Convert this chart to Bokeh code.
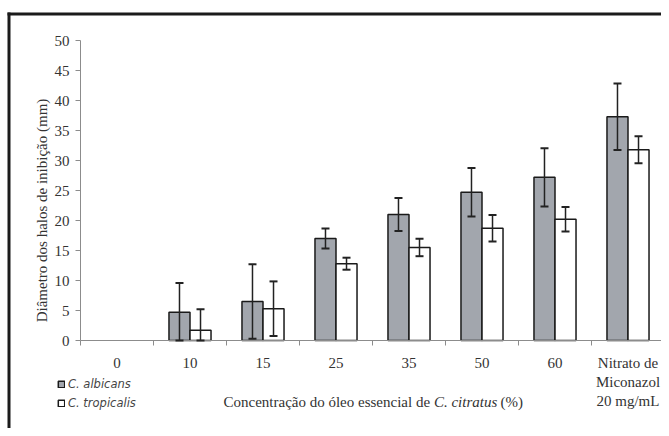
from math import pi
from bokeh.plotting import figure
from bokeh.models import (ColumnDataSource, Range1d, LinearAxis, FixedTicker, Whisker, TeeHead,
                          Label, Legend, LegendItem, BoxAnnotation)
from bokeh.transform import dodge
from bokeh.embed import file_html
from bokeh.resources import INLINE

# ---- data ----
categories = ["0", "10", "15", "25", "35", "50", "60", "Nitrato de\nMiconazol\n20 mg/mL"]
albicans = [0, 4.7, 6.5, 17.0, 21.0, 24.7, 27.2, 37.3]
albicans_err = [0, 4.9, 6.2, 1.65, 2.75, 4.05, 4.85, 5.55]
tropicalis = [0, 1.7, 5.3, 12.8, 15.5, 18.7, 20.2, 31.8]
tropicalis_err = [0, 3.5, 4.55, 1.0, 1.45, 2.2, 2.05, 2.25]
y_ticks = [0, 5, 10, 15, 20, 25, 30, 35, 40, 45, 50]
series_names = ["C. albicans", "C. tropicalis"]
y_title = "Diâmetro dos halos de inibição (mm)"
x_title_parts = ["Concentração do óleo essencial de ", "C. citratus", " (%)"]

# ---- layout constants (pixels) ----
W, H = 661, 428          # canvas size
X0_PX, Y0_PX = 80, 340   # where (0, 0) of the data lies inside the canvas
PX_PER_CAT = 73
PX_PER_UNIT = 6

SERIF = "Liberation Serif"
TXT = "#333333"
AX = "#8c8c8c"
BAR_W = 0.288
OFF = 0.144

n = len(categories)
centers = [i + 0.5 for i in range(n)]          # category slots on a linear scale
bounds = list(range(n))                         # category boundaries (tick marks)

def bar_source(vals, errs):
    xs, v_, up, lo = [], [], [], []
    for x, v, e in zip(centers, vals, errs):
        if v > 0:
            xs.append(x)
            v_.append(v)
            up.append(v + e)
            lo.append(max(0, v - e))
    return ColumnDataSource(dict(x=xs, v=v_, upper=up, lower=lo))

x_range = Range1d(-X0_PX / PX_PER_CAT, (W - X0_PX) / PX_PER_CAT)
y_range = Range1d(-(H - Y0_PX) / PX_PER_UNIT, Y0_PX / PX_PER_UNIT)

def px_x(px):   # canvas pixel -> data x (for text/decoration placement)
    return (px - X0_PX) / PX_PER_CAT

def px_y(py):
    return (Y0_PX - py) / PX_PER_UNIT

p = figure(x_range=x_range, y_range=y_range, width=W, height=H,
           output_backend="svg", toolbar_location=None,
           x_axis_location=None, y_axis_location=None,
           min_border=0, background_fill_color="white", border_fill_color="white")
p.outline_line_color = None
p.xgrid.visible = False
p.ygrid.visible = False

# black frame of the original figure (top and left edges)
p.add_layout(BoxAnnotation(left=px_x(7), right=None, top=px_y(12), bottom=px_y(15),
                           fill_color="#1b1b1b", fill_alpha=1, line_color=None))
p.add_layout(BoxAnnotation(left=px_x(7), right=px_x(10), top=px_y(12), bottom=None,
                           fill_color="#1b1b1b", fill_alpha=1, line_color=None))

# y axis
ya = LinearAxis(fixed_location=0, bounds=(0, 50), ticker=FixedTicker(ticks=y_ticks),
                axis_line_color=AX, major_tick_line_color=AX, minor_tick_line_color=None,
                major_tick_in=0, major_tick_out=5, major_label_standoff=6,
                major_label_text_font=SERIF, major_label_text_font_size="15px",
                major_label_text_color=TXT)
p.add_layout(ya, "left")

# x axis: line + ticks at category boundaries
tick_axis = LinearAxis(fixed_location=0, bounds=(0, x_range.end), ticker=FixedTicker(ticks=bounds),
                       axis_line_color=AX, major_tick_line_color=AX, minor_tick_line_color=None,
                       major_tick_in=0, major_tick_out=5,
                       major_label_overrides={b: "" for b in bounds},
                       major_label_text_font_size="1px")
p.add_layout(tick_axis, "below")
# x axis: category labels at slot centres
cat_axis = LinearAxis(fixed_location=0, ticker=FixedTicker(ticks=centers),
                      major_label_overrides={c: lab for c, lab in zip(centers, categories)},
                      axis_line_color=None, major_tick_line_color=None, minor_tick_line_color=None,
                      major_tick_in=0, major_tick_out=0, major_label_standoff=14,
                      major_label_text_font=SERIF, major_label_text_font_size="15px",
                      major_label_text_color=TXT)
p.add_layout(cat_axis, "below")

src_a = bar_source(albicans, albicans_err)
src_t = bar_source(tropicalis, tropicalis_err)
r1 = p.vbar(x=dodge("x", -OFF), top="v", width=BAR_W, source=src_a,
            fill_color="#a2a6ad", line_color="#1a1a1a", line_width=1.5)
r2 = p.vbar(x=dodge("x", OFF), top="v", width=BAR_W, source=src_t,
            fill_color="white", line_color="#1a1a1a", line_width=1.5)

for s, off in [(src_a, -OFF), (src_t, OFF)]:
    p.add_layout(Whisker(source=s, base=dodge("x", off), upper="upper", lower="lower",
                         level="annotation", line_color="#222222", line_width=1.5,
                         upper_head=TeeHead(size=8, line_width=2, line_color="#222222"),
                         lower_head=TeeHead(size=8, line_width=2, line_color="#222222")))

legend = Legend(items=[LegendItem(label=series_names[0], renderers=[r1]),
                       LegendItem(label=series_names[1], renderers=[r2])],
                location=(57, H - 410), orientation="vertical",
                glyph_width=8, glyph_height=8, label_standoff=3, label_height=12,
                spacing=5, padding=0, margin=0, border_line_color=None,
                background_fill_alpha=0, label_text_font="DejaVu Sans",
                label_text_font_style="italic", label_text_font_size="11.5px",
                label_text_color="#444444")
p.add_layout(legend)

# y title
p.add_layout(Label(x=px_x(41), y=px_y(210), text=y_title, angle=pi / 2, text_align="center",
                   text_baseline="middle", text_font=SERIF, text_font_size="15px", text_color=TXT))
# x title (mixed italic)
offs = [0, 210.4, 277.0]
styles = ["normal", "italic", "normal"]
for part, o, st in zip(x_title_parts, offs, styles):
    p.add_layout(Label(x=px_x(223), y=px_y(401), x_offset=o, text=part, text_align="left",
                       text_baseline="middle", text_font=SERIF, text_font_size="15px",
                       text_font_style=st, text_color=TXT))

open("out.html", "w").write(file_html(p, INLINE))
